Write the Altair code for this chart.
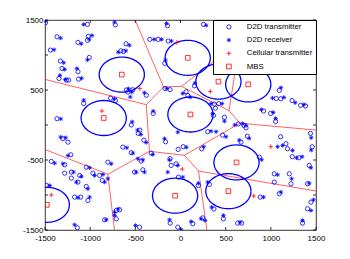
import altair as alt
import numpy as np
import pandas as pd

# ---------------- data ----------------
tx_x = [-1495,-1030,-722,-1367,-1135,-1020,-1030,-1440,-603,-660,-630,-1010,-1330,-1312,-1135,-1345,-1263,-1238,-1128,
        -1072,-774,-720,-1367,-583,-528,-600,-378,-302,-545,-170,-115,-144,-340,-247,-136,-174,254,154,62,80,386,375,423,
        365,486,640,700,725,1060,1110,1094,1235,1330,1384,1223,920,997,1053,670,740,1108,1439,1167,1185,1237,1311,1458,
        873,30,235,301,467,-48,-23,198,320,1038,1204,1223,1038,1406,1425,883,1094,1444,1406,1351,475,633,677,370,246,136,
        -30,-1301,-1246,-1215,-1430,-1282,-1282,-1208,-1116,-1208,-1135,-1043,-970,-1043,-1172,-1105,-1025,-896,-866,-804,
        -1485,-1142,-840,-711,-674,-711,-453,-638,-545,-435,-405,-509,-417,-165,-324,-115,-103,-114,-450,-468,-26]
tx_y = [1460,1437,1430,1260,1180,1266,1210,1070,1160,1060,1050,965,913,808,761,665,641,641,655,
        308,384,350,90,470,504,500,425,165,0,520,505,1418,1223,1223,1199,880,1437,560,475,423,240,300,305,
        135,110,15,-5,-40,378,375,494,350,280,272,770,200,165,50,-245,-160,-168,-120,-268,-339,-453,-468,-311,
        -459,-310,-340,-96,-145,-554,-745,-864,-849,-697,-697,-839,-816,-839,-578,-1030,-982,-1102,-1197,-1402,-1340,-1402,-1402,-1200,-1326,-1411,
        -1459,-196,-245,-425,-520,-568,-688,-673,-721,-759,-816,-602,-688,-878,-1030,-1030,-1078,-721,-792,-531,
        -864,-1468,-1354,-1221,-1211,-1340,-1459,-316,-395,-516,-218,-673,-640,-240,-402,-480,-578,-1402,-73,-120,-349]

rx_x = [-1490,-1072,-730,-1327,-1098,-980,-1010,-1400,-566,-690,-605,-1030,-1293,-1282,-1146,-1335,-1275,-1095,
        -1072,-730,-1325,-575,-556,-540,-400,-302,-535,-150,-155,-291,-210,-100,-166,284,160,25,107,339,460,356,486,
        600,688,725,1018,1145,1112,1270,1366,1259,895,1027,1053,651,760,1447,1130,1075,1240,1284,1347,1447,898,65,257,
        339,394,504,-30,25,198,301,1075,1230,1425,1444,920,1112,1473,1444,1351,475,659,345,228,272,118,7,-30,
        -1327,-1271,-1245,-1393,-1301,-1183,-1098,-1153,-1006,-951,-1025,-1135,-1006,-859,-840,-804,-766,-1448,-1172,
        -822,-730,-690,-730,-498,-594,-527,-472,-417,-380,-490,-398,-177,-307,-122,-141,-122,-476,-439]
rx_y = [1490,1437,1470,1241,1161,1280,1225,1075,1140,1040,1060,930,890,794,808,710,650,668,
        355,375,87,518,400,470,460,198,45,520,1451,1223,1223,1199,927,1423,598,451,398,305,305,163,55,
        0,20,-5,385,395,533,318,292,780,220,180,94,-216,-190,-182,-292,-310,-363,-468,-453,-359,-496,-318,-310,
        -88,-96,-168,-578,-745,-831,-816,-711,-768,-831,-611,-1030,-959,-1068,-1221,-1364,-1292,-1388,-1174,-1340,-1364,-1378,-1497,-102,
        -173,-182,-437,-545,-554,-673,-735,-816,-611,-721,-911,-1039,-1030,-707,-816,-768,-554,-864,-1425,
        -1354,-1245,-1200,-1292,-1435,-325,-402,-482,-497,-250,-673,-673,-196,-421,-500,-673,-1354,-73,-135]

cell_x = [-870, -450, -40, 330, -1430, 810, 1000, 20]
cell_y = [200, 520, 1180, 480, -1000, -1015, -310, -630]

mbs_x = [-650, -850, 80, 420, 750, 110, -1480, -60, 620, 530]
mbs_y = [720, 100, 960, 620, 580, 150, -1140, -1010, -535, -945]

coverage_radius = 250
ticks = [-1500, -1000, -500, 0, 500, 1000, 1500]
labels = ["D2D transmitter", "D2D receiver", "Cellular transmitter", "MBS"]
LO, HI = -1500, 1500

# ---------------- derived tables ----------------
pts = pd.concat([
    pd.DataFrame({"x": tx_x, "y": tx_y, "type": labels[0]}),
    pd.DataFrame({"x": rx_x, "y": rx_y, "type": labels[1]}),
    pd.DataFrame({"x": cell_x, "y": cell_y, "type": labels[2]}),
    pd.DataFrame({"x": mbs_x, "y": mbs_y, "type": labels[3]}),
], ignore_index=True)


def voronoi_edges(xs, ys, lo, hi):
    P = np.column_stack([xs, ys]).astype(float)
    n = len(P)
    rows = []
    for i in range(n):
        for j in range(i + 1, n):
            m = (P[i] + P[j]) / 2
            d = np.array([-(P[j][1] - P[i][1]), P[j][0] - P[i][0]])
            d = d / np.linalg.norm(d)
            tmin, tmax = -1e6, 1e6
            ok = True
            for k in range(n):
                if k in (i, j):
                    continue
                v = P[k] - P[i]
                a = 2 * np.dot(d, v)
                b = np.dot(P[k], P[k]) - np.dot(P[i], P[i]) - 2 * np.dot(m, v)
                if abs(a) < 1e-12:
                    if b < 0:
                        ok = False
                        break
                elif a > 0:
                    tmax = min(tmax, b / a)
                else:
                    tmin = max(tmin, b / a)
            if not ok:
                continue
            for ax in range(2):
                if abs(d[ax]) < 1e-12:
                    if not (lo <= m[ax] <= hi):
                        ok = False
                else:
                    t1 = (lo - m[ax]) / d[ax]
                    t2 = (hi - m[ax]) / d[ax]
                    tmin = max(tmin, min(t1, t2))
                    tmax = min(tmax, max(t1, t2))
            if ok and tmax > tmin + 1e-9:
                p1 = m + tmin * d
                p2 = m + tmax * d
                rows.append({"x": p1[0], "y": p1[1], "x2": p2[0], "y2": p2[1]})
    return pd.DataFrame(rows)


vor = voronoi_edges(mbs_x, mbs_y, LO, HI)

theta = np.linspace(0, 2 * np.pi, 91)
circ = pd.concat([
    pd.DataFrame({"cid": i, "o": np.arange(len(theta)),
                  "x": cx + coverage_radius * np.cos(theta),
                  "y": cy + coverage_radius * np.sin(theta)})
    for i, (cx, cy) in enumerate(zip(mbs_x, mbs_y))
], ignore_index=True)

tick_df = pd.DataFrame({"t": ticks})

# ---------------- chart ----------------
W, H = 271, 210
FONT = "Liberation Sans"
AX_FS = 8
LEG_FS = 7.8
xs = alt.Scale(domain=[LO, HI], nice=False, zero=False)
ys = alt.Scale(domain=[LO, HI], nice=False, zero=False)

ASTER = "M-1,0L1,0M0,-1L0,1M-0.7,-0.7L0.7,0.7M-0.7,0.7L0.7,-0.7"
PLUS = "M-1,0L1,0M0,-1L0,1"

ax_common = dict(values=ticks, title=None, labelExpr="datum.value + ''",
                 labelFlush=False, labelOverlap=False, labelBound=False,
                 labelFont=FONT, labelFontSize=AX_FS)

leg = alt.Legend(title=None, labelFont=FONT, labelFontSize=LEG_FS, labelLimit=200,
                 orient="top-right", offset=0, padding=3,
                 fillColor="white", strokeColor="black",
                 symbolStrokeWidth=0.8, symbolOffset=9, labelOffset=14,
                 rowPadding=4.2)

vor_layer = alt.Chart(vor).mark_rule(color="#ff2020", strokeWidth=0.7, clip=True).encode(
    x=alt.X("x:Q", scale=xs, axis=alt.Axis(**ax_common)),
    y=alt.Y("y:Q", scale=ys, axis=alt.Axis(**ax_common)),
    x2="x2:Q", y2="y2:Q")

circ_layer = alt.Chart(circ).mark_line(color="#0000ff", strokeWidth=1.3, clip=True).encode(
    x=alt.X("x:Q", scale=xs), y=alt.Y("y:Q", scale=ys),
    detail="cid:N", order="o:Q")

pt_layer = alt.Chart(pts).mark_point(filled=False, strokeWidth=0.8, opacity=1, clip=True).encode(
    x=alt.X("x:Q", scale=xs), y=alt.Y("y:Q", scale=ys),
    shape=alt.Shape("type:N", legend=leg,
                    scale=alt.Scale(domain=labels, range=["circle", ASTER, PLUS, "square"])),
    color=alt.Color("type:N", legend=leg,
                    scale=alt.Scale(domain=labels, range=["#0000ff", "#0000ff", "#ff0000", "#ff0000"])),
    size=alt.Size("type:N", legend=leg,
                  scale=alt.Scale(domain=labels, range=[18, 22, 28, 16])),
)

tk = dict(color="black", strokeWidth=0.8)
tick_bottom = alt.Chart(tick_df).mark_rule(**tk).encode(
    x=alt.X("t:Q", scale=xs), y=alt.value(H), y2=alt.value(H - 3))
tick_top = alt.Chart(tick_df).mark_rule(**tk).encode(
    x=alt.X("t:Q", scale=xs), y=alt.value(0), y2=alt.value(3))
tick_left = alt.Chart(tick_df).mark_rule(**tk).encode(
    y=alt.Y("t:Q", scale=ys), x=alt.value(0), x2=alt.value(3))
tick_right = alt.Chart(tick_df).mark_rule(**tk).encode(
    y=alt.Y("t:Q", scale=ys), x=alt.value(W), x2=alt.value(W - 3))

chart = alt.layer(
    vor_layer, circ_layer, pt_layer, tick_bottom, tick_top, tick_left, tick_right
).properties(
    width=W, height=H,
    padding={"left": 37, "top": 12, "right": 20, "bottom": 20},
    autosize=alt.AutoSizeParams(type="none"),
    background="white",
).configure(
    font=FONT
).configure_view(
    stroke="black", strokeWidth=0.8
).configure_axis(
    grid=False, ticks=False, domain=False,
    labelFont=FONT, labelFontSize=AX_FS, labelColor="black",
    labelPadding=2,
).configure_axisX(
    labelPadding=4
).configure_legend(
    labelFont=FONT, labelFontSize=LEG_FS, labelColor="black",
)

chart.save("out.html", embed_options={"renderer": "svg", "actions": False})
